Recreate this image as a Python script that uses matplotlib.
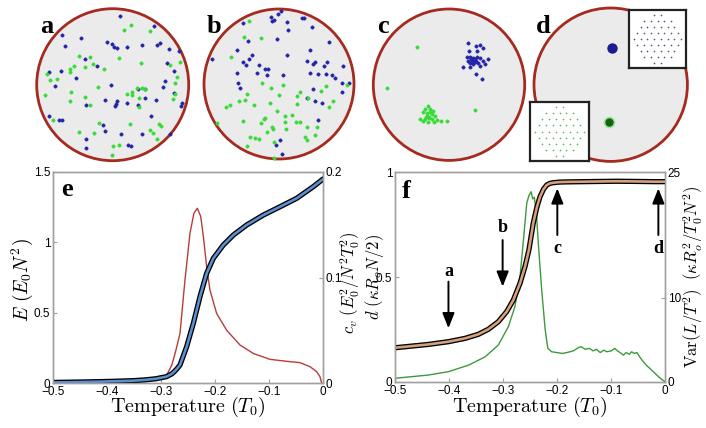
import matplotlib
matplotlib.use("Agg")
import matplotlib.pyplot as plt
import numpy as np
from matplotlib.patches import Circle

plt.rcParams['mathtext.fontset'] = 'cm'
plt.rcParams['font.family'] = ['Liberation Sans', 'DejaVu Sans']

# ---------------- data: snapshots (disk coordinates, y downwards) ----------------
a_blue_x = [255,357,80,138,90,215,232,238,245,277,322,365,375,403,432,150,186,395,417,42,78,123,390,229,59,383,310,330,418,211,246,243,240,275,153,310,330,362,441,437,42,72,80,349,205,209,259,322,152,404,280,287,152]
a_blue_y = [35,65,92,102,125,115,120,130,132,128,122,122,118,136,140,165,186,176,202,203,202,221,232,242,247,250,256,255,268,287,292,300,305,298,304,302,283,287,297,305,335,348,349,336,363,380,391,389,406,389,423,425,433]
a_green_x = [287,266,345,131,166,149,174,208,252,318,435,405,117,104,105,35,46,65,108,150,190,276,290,292,306,322,330,313,420,426,420,413,30,165,106,311,53,192,286,132,176,345,373,378,353,367,235,252,232]
a_green_y = [62,78,82,157,160,188,180,194,162,178,175,182,186,195,205,210,228,225,263,278,248,270,265,274,252,253,256,281,237,218,270,284,272,302,292,310,348,357,360,383,388,378,360,365,388,404,425,423,453]

b_blue_x = [242,233,213,222,217,128,260,307,312,335,265,230,145,388,260,36,110,155,148,128,137,178,195,205,322,340,346,372,382,430,330,110,172,200,250,331,355,378,396,406,115,120,427,446,338,425,322,345,367,355,239,228,247]
b_blue_y = [22,30,38,48,50,58,55,42,43,70,78,106,112,115,152,165,138,152,165,175,182,182,195,195,170,180,175,185,175,187,137,208,206,214,212,207,210,210,213,222,238,252,237,237,255,265,283,290,298,348,408,422,450]
b_green_x = [148,133,183,93,186,250,213,378,363,442,140,238,300,292,323,117,136,163,210,290,400,388,78,90,232,275,255,195,192,130,184,255,288,300,215,220,258,322,350,200,316,320,345,150,165,178,223,140,52,222]
b_green_y = [50,98,102,158,238,243,252,246,262,243,270,272,265,277,282,290,287,303,296,300,292,310,310,303,320,332,335,342,345,350,358,355,355,355,370,376,376,368,370,383,400,407,392,398,403,405,415,425,358,462]

c_blue_x = [295,318,330,338,322,297,290,300,308,315,322,330,340,355,345,330,310,300,295,305,315,318,280,300,317,336,325,312,302]
c_blue_y = [117,125,123,133,140,140,158,160,162,165,160,163,170,165,180,185,180,178,170,172,175,170,190,190,210,225,178,168,165]
c_green_x = [175,165,180,160,190,172,185,170,178,195,150,165,185,200,212,232,175,192,160,168,180,176,140,50,316]
c_green_y = [305,315,315,325,322,328,330,335,338,335,345,345,345,348,350,350,355,355,352,340,325,342,128,252,318]

d_blue_x, d_blue_y = [253], [133]
d_green_x, d_green_y = [242], [354]

# disk frames: (centre x, centre y, radius) in disk coordinates
frames = {'a': (233, 242, 228), 'b': (237, 240, 225), 'c': (237, 242, 227), 'd': (248, 242, 230)}
# placement of each disk on the page (pixel centre x, centre y, radius)
places = {'a': (112.7, 84.7, 76), 'b': (279, 84, 75), 'c': (449, 84.7, 75.7), 'd': (610.7, 84.7, 76.7)}

# hexagonal crystal insets of panel d: number of particles per lattice row
lattice_rows = [2, 5, 6, 7, 8, 7, 6, 5, 2]

# ---------------- data: panel e ----------------
e_T = [-0.5, -0.45, -0.41, -0.38, -0.35, -0.33, -0.31, -0.29, -0.28, -0.275, -0.27, -0.2648, -0.2525, -0.2401, -0.2278, -0.2154, -0.2031, -0.1846, -0.166, -0.1414, -0.1105, -0.0796, -0.0487, -0.0179, 0.0]
e_E = [0.004, 0.007, 0.01, 0.013, 0.017, 0.022, 0.03, 0.045, 0.065, 0.082, 0.103, 0.128, 0.258, 0.424, 0.614, 0.78, 0.886, 0.981, 1.052, 1.123, 1.194, 1.253, 1.313, 1.396, 1.45]
cv_T = [-0.5, -0.4, -0.35, -0.32, -0.3, -0.29, -0.28, -0.275, -0.27, -0.2648, -0.2556, -0.2463, -0.239, -0.2327, -0.2265, -0.2216, -0.2154, -0.2093, -0.197, -0.1784, -0.1537, -0.129, -0.0981, -0.061, -0.0426, -0.0241, -0.0117, -0.0056, -0.0025]
cv = [0.0005, 0.0008, 0.0015, 0.003, 0.0045, 0.007, 0.017, 0.026, 0.036, 0.047, 0.0976, 0.142, 0.161, 0.1656, 0.158, 0.139, 0.110, 0.088, 0.066, 0.050, 0.036, 0.028, 0.0224, 0.0202, 0.0193, 0.0155, 0.0107, 0.006, 0.0]

# ---------------- data: panel f ----------------
d_T = [-0.5, -0.469, -0.438, -0.401, -0.37, -0.3457, -0.3272, -0.3087, -0.2932, -0.2809, -0.2685, -0.2593, -0.252, -0.244, -0.2375, -0.2315, -0.225, -0.219, -0.213, -0.207, -0.195, -0.18, -0.151, -0.12, -0.09, -0.05, -0.02, 0.0]
d_val = [0.163, 0.171, 0.179, 0.192, 0.208, 0.227, 0.251, 0.287, 0.335, 0.39, 0.47, 0.549, 0.629, 0.756, 0.83, 0.882, 0.918, 0.938, 0.946, 0.949, 0.952, 0.953, 0.954, 0.955, 0.956, 0.955, 0.954, 0.954]
var_T = [-0.5, -0.438, -0.401, -0.364, -0.333, -0.3087, -0.29, -0.2778, -0.2685, -0.262, -0.256, -0.252, -0.248, -0.245, -0.242, -0.238, -0.2346, -0.2284, -0.222, -0.217, -0.2099, -0.2, -0.19, -0.182, -0.17, -0.16, -0.155, -0.148, -0.14, -0.133, -0.127, -0.12, -0.113, -0.108, -0.1, -0.093, -0.088, -0.083, -0.077, -0.072, -0.066, -0.062, -0.057, -0.052, -0.046, -0.04, -0.033, -0.025, -0.018, -0.012, -0.006, 0.0]
var = [0.44, 0.83, 1.23, 2.0, 3.0, 4.4, 6.6, 9.0, 12.5, 17.0, 21.3, 22.2, 22.65, 21.8, 22.0, 20.0, 16.5, 11.0, 6.3, 4.0, 3.6, 3.5, 3.4, 3.5, 3.7, 4.1, 4.2, 3.9, 4.0, 3.7, 3.9, 3.5, 3.8, 3.6, 3.7, 4.0, 3.7, 3.5, 3.2, 3.5, 3.3, 3.6, 3.4, 3.5, 2.9, 2.4, 1.9, 1.43, 1.0, 0.63, 0.3, 0.04]

arrow_T = [-0.401, -0.3007, -0.1994, -0.0123]
arrow_tail = [0.478, 0.676, 0.70, 0.70]
arrow_tip = [0.256, 0.454, 0.922, 0.922]
arrow_lab = ['a', 'b', 'c', 'd']
arrow_lab_y = [0.525, 0.737, 0.637, 0.637]

x_ticks = [-0.5, -0.4, -0.3, -0.2, -0.1, 0]
x_tick_labels = ['\u22120.5', '\u22120.4', '\u22120.3', '\u22120.2', '\u22120.1', '0']

# ---------------- figure ----------------
W, H = 706, 428
fig = plt.figure(figsize=(W / 100, H / 100), dpi=100)

def add_px_axes(left, top, w, h, **kw):
    return fig.add_axes([left / W, 1 - (top + h) / H, w / W, h / H], **kw)

BLUE = '#2424aa'
GREEN = '#36dc36'
snap = {
    'a': [(a_blue_x, a_blue_y, BLUE), (a_green_x, a_green_y, GREEN)],
    'b': [(b_blue_x, b_blue_y, BLUE), (b_green_x, b_green_y, GREEN)],
    'c': [(c_blue_x, c_blue_y, BLUE), (c_green_x, c_green_y, GREEN)],
}
disk_axes = {}
for key in ['a', 'b', 'c', 'd']:
    cx, cy, R = frames[key]
    pcx, pcy, pr = places[key]
    ax = add_px_axes(pcx - pr, pcy - pr, 2 * pr, 2 * pr)
    ax.set_xlim(cx - R, cx + R)
    ax.set_ylim(cy + R, cy - R)
    ax.set_aspect('equal')
    ax.axis('off')
    ax.add_patch(Circle((cx, cy), R, facecolor='#ebebeb', edgecolor='#a52a1f', lw=2.0, clip_on=False))
    if key in snap:
        for xs, ys, col in snap[key]:
            ax.scatter(xs, ys, s=6, color=col, edgecolors=col, linewidths=0.3, zorder=3, clip_on=False)
    disk_axes[key] = ax

axd = disk_axes['d']
axd.scatter(d_blue_x, d_blue_y, s=42, color='#1c1c90', zorder=3)
axd.scatter(d_green_x, d_green_y, s=70, color='#7fe07f', alpha=0.7, zorder=3, linewidths=0)
axd.scatter(d_green_x, d_green_y, s=25, color='#116611', zorder=4)

# lattice insets
def lattice_inset(left, top, w, h, col):
    ax = add_px_axes(left, top, w, h, zorder=5)
    ax.set_xlim(0, 1); ax.set_ylim(0, 1)
    ax.set_xticks([]); ax.set_yticks([])
    for s in ax.spines.values():
        s.set_linewidth(1.6); s.set_color('#222222')
    n = len(lattice_rows)
    sp = 0.82 / (n - 1)
    xs, ys = [], []
    for i, cnt in enumerate(lattice_rows):
        y = 0.09 + i * sp
        for j in range(cnt):
            xs.append(0.5 + (j - (cnt - 1) / 2) * sp * 1.15)
            ys.append(y)
    ax.scatter(xs, ys, s=1.5, color=col, linewidths=0)

lattice_inset(629, 10, 57, 58, '#5a5a78')
lattice_inset(530, 102, 59, 59, '#60b860')

# panel letters
for lab, (px, py) in {'a': (40, 33), 'b': (207, 33), 'c': (377, 33), 'd': (536, 33), 'e': (61, 196), 'f': (402, 198)}.items():
    fig.text(px / W, 1 - py / H, lab, fontsize=19, fontweight='bold',
             family='Liberation Serif', ha='left', va='baseline')

SPINE = '#a0a0a0'

def style(ax):
    for s in ax.spines.values():
        s.set_color(SPINE); s.set_linewidth(1.0)
    ax.tick_params(direction='in', length=3, color=SPINE, labelsize=8.5, pad=2)

# ---- panel e ----
ax_e = add_px_axes(53, 172, 270, 211)
ax_e2 = ax_e.twinx()
ax_e2.plot(cv_T, cv, color='#b73c3c', lw=1.0)
ax_e.plot(e_T, e_E, color='black', lw=3.8, solid_capstyle='round', solid_joinstyle='round')
ax_e.plot(e_T, e_E, color='#5b8fd0', lw=1.9, solid_capstyle='round', solid_joinstyle='round')
ax_e.set_zorder(ax_e2.get_zorder() + 1); ax_e.patch.set_visible(False)
ax_e.set_xlim(-0.5, 0); ax_e.set_ylim(0, 1.5)
ax_e2.set_ylim(0, 0.2)
ax_e.set_xticks(x_ticks); ax_e.set_xticklabels(x_tick_labels)
ax_e.set_yticks([0, 0.5, 1, 1.5]); ax_e.set_yticklabels(['0', '0.5', '1', '1.5'])
ax_e2.set_yticks([0, 0.1, 0.2]); ax_e2.set_yticklabels(['0', '0.1', '0.2'])
style(ax_e); style(ax_e2)

# ---- panel f ----
ax_f = add_px_axes(395, 172, 270, 210)
ax_f2 = ax_f.twinx()
ax_f2.plot(var_T, var, color='#3c9a3c', lw=1.0)
ax_f.plot(d_T, d_val, color='black', lw=3.8, solid_capstyle='round', solid_joinstyle='round')
ax_f.plot(d_T, d_val, color='#d6a07c', lw=1.9, solid_capstyle='round', solid_joinstyle='round')
ax_f.set_zorder(ax_f2.get_zorder() + 1); ax_f.patch.set_visible(False)
ax_f.set_xlim(-0.5, 0); ax_f.set_ylim(0, 1)
ax_f2.set_ylim(0, 25)
ax_f.set_xticks(x_ticks); ax_f.set_xticklabels(x_tick_labels)
ax_f.set_yticks([0, 0.5, 1]); ax_f.set_yticklabels(['0', '0.5', '1'])
ax_f2.set_yticks([0, 10, 25]); ax_f2.set_yticklabels(['0', '10', '25'])
style(ax_f); style(ax_f2)

for T, t0, t1, lab, ly in zip(arrow_T, arrow_tail, arrow_tip, arrow_lab, arrow_lab_y):
    ax_f.annotate('', xy=(T, t1), xytext=(T, t0),
                  arrowprops=dict(arrowstyle='-|>,head_length=0.7,head_width=0.28',
                                  color='black', lw=1.4, mutation_scale=13,
                                  shrinkA=0, shrinkB=0))
    ax_f.text(T, ly, lab, fontsize=13, fontweight='bold', family='Liberation Serif',
              ha='center', va='center')

# axis labels
def ftext(px, py, s, size, rot=0):
    fig.text(px / W, 1 - py / H, s, fontsize=size, rotation=rot, ha='center', va='center')

ftext(22, 280, r'$E\ (E_0N^2)$', 14, 90)
ftext(350, 283, r'$c_v\ (E_0^2/N^2T_0^2)$', 12, 90)
ftext(375, 277, r'$d\ (\kappa R_o N/2)$', 12, 90)
ftext(693, 277, r'$\mathrm{Var}(L/T^2)\ \ (\kappa R_o^2/T_0^2N^2)$', 12, 90)
ftext(188, 407, r'$\mathrm{Temperature}\ (T_0)$', 14.5)
ftext(530, 407, r'$\mathrm{Temperature}\ (T_0)$', 14.5)

fig.savefig('out.png', dpi=100)
